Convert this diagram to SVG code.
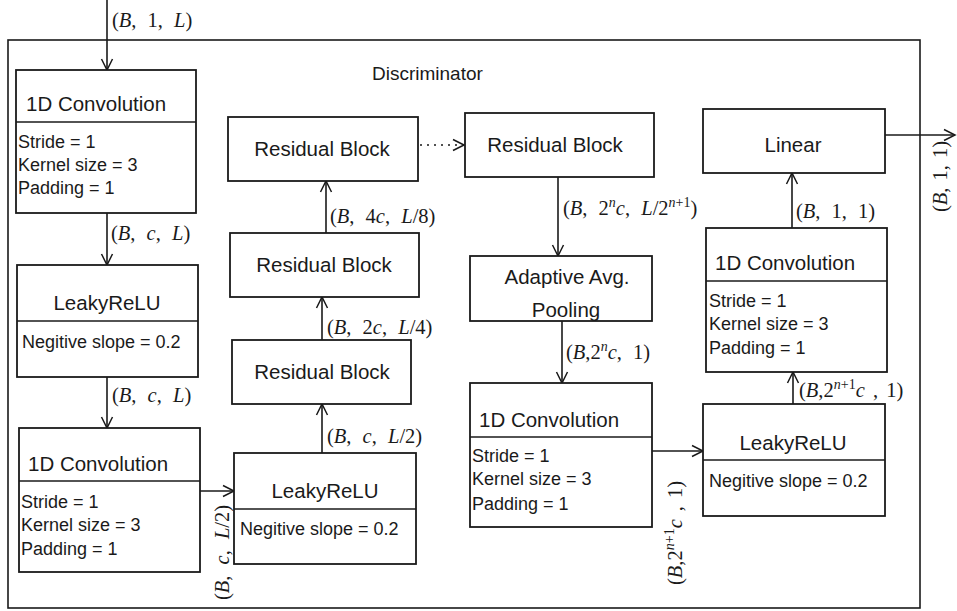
<svg xmlns="http://www.w3.org/2000/svg" width="957" height="611" viewBox="0 0 957 611">
<style>
.box{fill:#fff;stroke:#1a1a1a;stroke-width:1.8}
.div{stroke:#1a1a1a;stroke-width:1.6}
.t{font-family:"Liberation Sans",Arial,sans-serif;font-size:20.5px;fill:#1a1a1a}
.p{font-family:"Liberation Sans",Arial,sans-serif;font-size:18px;fill:#1a1a1a}
.c{text-anchor:middle}
.m{font-family:"Liberation Serif","DejaVu Serif",serif;font-size:20.5px;fill:#1a1a1a;word-spacing:6px}
.i{font-style:italic}
.s{font-size:14px}
.ln{fill:none;stroke:#1a1a1a;stroke-width:1.6}
.dot{stroke-dasharray:2 5}
</style>
<defs>
<marker id="arr" markerUnits="userSpaceOnUse" markerWidth="14" markerHeight="14" refX="12" refY="7" orient="auto">
<path d="M1,1.5 L12,7 L1,12.5" fill="none" stroke="#1a1a1a" stroke-width="1.5"/>
</marker>
</defs>
<rect id="frame" x="8" y="40" width="912" height="568" fill="none" stroke="#1a1a1a" stroke-width="1.6"/>
<text id="title" class="t" x="372" y="80" style="font-size:19px">Discriminator</text>

<g id="connectors">
<line class="ln" x1="107" y1="0" x2="107" y2="70" marker-end="url(#arr)"/>
<line class="ln" x1="107" y1="213" x2="107" y2="265" marker-end="url(#arr)"/>
<line class="ln" x1="107" y1="377" x2="107" y2="428" marker-end="url(#arr)"/>
<line class="ln" x1="200" y1="491" x2="234" y2="491" marker-end="url(#arr)"/>
<line class="ln" x1="322" y1="453" x2="322" y2="404" marker-end="url(#arr)"/>
<line class="ln" x1="322" y1="340" x2="322" y2="297" marker-end="url(#arr)"/>
<line class="ln" x1="326" y1="233" x2="326" y2="181" marker-end="url(#arr)"/>
<line class="ln dot" x1="420" y1="145" x2="465" y2="145"/>
<path class="ln" d="M453,139.5 L464,145 L453,150.5"/>
<line class="ln" x1="558" y1="177" x2="558" y2="256" marker-end="url(#arr)"/>
<line class="ln" x1="562" y1="321" x2="562" y2="383" marker-end="url(#arr)"/>
<line class="ln" x1="652" y1="451" x2="703" y2="451" marker-end="url(#arr)"/>
<line class="ln" x1="793" y1="404" x2="793" y2="372" marker-end="url(#arr)"/>
<line class="ln" x1="792" y1="228" x2="792" y2="173" marker-end="url(#arr)"/>
<line class="ln" x1="885" y1="135" x2="955" y2="135" marker-end="url(#arr)"/>

<text class="m" x="112" y="27">(<tspan class="i">B</tspan>, 1, <tspan class="i">L</tspan>)</text>
<text class="m" x="111" y="240">(<tspan class="i">B</tspan>, <tspan class="i">c</tspan>, <tspan class="i">L</tspan>)</text>
<text class="m" x="112" y="402">(<tspan class="i">B</tspan>, <tspan class="i">c</tspan>, <tspan class="i">L</tspan>)</text>
<text class="m" transform="translate(229,600) rotate(-90)">(<tspan class="i">B</tspan>, <tspan class="i">c</tspan>, <tspan class="i">L</tspan>/2)</text>
<text class="m" x="327" y="443">(<tspan class="i">B</tspan>, <tspan class="i">c</tspan>, <tspan class="i">L</tspan>/2)</text>
<text class="m" x="327" y="334">(<tspan class="i">B</tspan>, 2<tspan class="i">c</tspan>, <tspan class="i">L</tspan>/4)</text>
<text class="m" x="330" y="223">(<tspan class="i">B</tspan>, 4<tspan class="i">c</tspan>, <tspan class="i">L</tspan>/8)</text>
<text class="m" x="563" y="215">(<tspan class="i">B</tspan>, 2<tspan class="i s" dy="-8">n</tspan><tspan class="i" dy="8">c</tspan>, <tspan class="i">L</tspan>/2<tspan class="s" dy="-8"><tspan class="i">n</tspan>+1</tspan><tspan dy="8">)</tspan></text>
<text class="m" x="566" y="359">(<tspan class="i">B</tspan>,2<tspan class="i s" dy="-8">n</tspan><tspan class="i" dy="8">c</tspan>, 1)</text>
<text class="m" transform="translate(682,585) rotate(-90)" style="word-spacing:3px">(<tspan class="i">B</tspan>,2<tspan class="s" dy="-8"><tspan class="i">n</tspan>+1</tspan><tspan class="i" dy="8">c</tspan> , 1)</text>
<text class="m" x="799" y="397" style="word-spacing:3px">(<tspan class="i">B</tspan>,2<tspan class="s" dy="-8"><tspan class="i">n</tspan>+1</tspan><tspan class="i" dy="8">c</tspan> , 1)</text>
<text class="m" x="796" y="218">(<tspan class="i">B</tspan>, 1, 1)</text>
<text class="m" transform="translate(947,212) rotate(-90)" style="word-spacing:2px">(<tspan class="i">B</tspan>, 1, 1)</text>
</g>

<g id="conv1">
<rect class="box" x="16" y="70" width="180" height="143"/>
<line class="div" x1="16" y1="122" x2="196" y2="122"/>
<text class="t" x="26" y="111">1D Convolution</text>
<text class="p" x="18" y="148">Stride = 1</text>
<text class="p" x="18" y="171">Kernel size = 3</text>
<text class="p" x="18" y="194">Padding = 1</text>
</g>
<g id="lrelu1">
<rect class="box" x="17" y="265" width="181" height="112"/>
<line class="div" x1="17" y1="321" x2="198" y2="321"/>
<text class="t c" x="107" y="310">LeakyReLU</text>
<text class="p" x="22" y="348">Negitive slope = 0.2</text>
</g>
<g id="conv2">
<rect class="box" x="19" y="428" width="181" height="144"/>
<line class="div" x1="19" y1="481" x2="200" y2="481"/>
<text class="t" x="28" y="471">1D Convolution</text>
<text class="p" x="21" y="508">Stride = 1</text>
<text class="p" x="21" y="531">Kernel size = 3</text>
<text class="p" x="21" y="555">Padding = 1</text>
</g>
<g id="lrelu2">
<rect class="box" x="234" y="453" width="182" height="111"/>
<line class="div" x1="234" y1="509" x2="416" y2="509"/>
<text class="t c" x="325" y="498">LeakyReLU</text>
<text class="p" x="240" y="535">Negitive slope = 0.2</text>
</g>
<g id="res1">
<rect class="box" x="232" y="340" width="179" height="64"/>
<text class="t c" x="322" y="379">Residual Block</text>
</g>
<g id="res2">
<rect class="box" x="230" y="233" width="189" height="64"/>
<text class="t c" x="324" y="272">Residual Block</text>
</g>
<g id="res3">
<rect class="box" x="228" y="117" width="190" height="64"/>
<text class="t c" x="322" y="156">Residual Block</text>
</g>
<g id="res4">
<rect class="box" x="465" y="113" width="189" height="64"/>
<text class="t c" x="555" y="152">Residual Block</text>
</g>
<g id="pool">
<rect class="box" x="470" y="256" width="182" height="65"/>
<text class="t c" x="567" y="284">Adaptive Avg.</text>
<text class="t c" x="566" y="317">Pooling</text>
</g>
<g id="conv3">
<rect class="box" x="470" y="383" width="182" height="144"/>
<line class="div" x1="470" y1="437" x2="652" y2="437"/>
<text class="t" x="479" y="427">1D Convolution</text>
<text class="p" x="472" y="462">Stride = 1</text>
<text class="p" x="472" y="485">Kernel size = 3</text>
<text class="p" x="472" y="510">Padding = 1</text>
</g>
<g id="lrelu3">
<rect class="box" x="703" y="404" width="182" height="112"/>
<line class="div" x1="703" y1="460" x2="885" y2="460"/>
<text class="t c" x="793" y="450">LeakyReLU</text>
<text class="p" x="709" y="487">Negitive slope = 0.2</text>
</g>
<g id="conv4">
<rect class="box" x="706" y="228" width="181" height="144"/>
<line class="div" x1="706" y1="281" x2="887" y2="281"/>
<text class="t" x="715" y="270">1D Convolution</text>
<text class="p" x="709" y="307">Stride = 1</text>
<text class="p" x="709" y="330">Kernel size = 3</text>
<text class="p" x="709" y="354">Padding = 1</text>
</g>
<g id="linear">
<rect class="box" x="703" y="109" width="182" height="64"/>
<text class="t c" x="793" y="152">Linear</text>
</g>
</svg>
